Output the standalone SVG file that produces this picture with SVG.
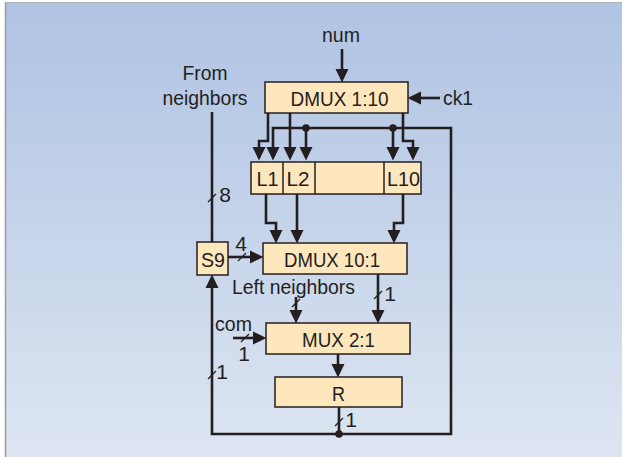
<svg xmlns="http://www.w3.org/2000/svg" width="622" height="457" viewBox="0 0 622 457">
<defs>
<linearGradient id="bg" x1="0" y1="0" x2="0" y2="1">
<stop offset="0" stop-color="#afc3e3"/>
<stop offset="1" stop-color="#dde5f1"/>
</linearGradient>
<marker id="ah" markerUnits="userSpaceOnUse" markerWidth="14" markerHeight="14" viewBox="0 0 14 14" refX="9" refY="7" orient="auto">
<path d="M0,0.5 L13.5,7 L0,13.5 z" fill="#231f20"/>
</marker>
<style>
.box{fill:#fee6bd;stroke:#231f20;stroke-width:1.5}
.t{font-family:"Liberation Sans",Arial,sans-serif;font-size:21px;fill:#231f20;text-anchor:middle}
.w{fill:none;stroke:#231f20;stroke-width:2.6}
.a{marker-end:url(#ah)}
.s{stroke:#231f20;stroke-width:1.2}
.d{fill:#231f20}
</style>
</defs>
<rect x="0" y="0" width="622" height="457" fill="#ffffff"/>
<rect x="6" y="3" width="616" height="454" fill="url(#bg)"/>
<line x1="5.5" y1="2" x2="5.5" y2="457" stroke="#9a9a9a" stroke-width="1.5"/>
<line x1="5" y1="2.5" x2="622" y2="2.5" stroke="#b0b0b0" stroke-width="1.2"/>

<g id="connectors">
<path class="w a" d="M342,49 V78"/>
<path class="w a" d="M440,98 H412"/>
<path class="w a" d="M268,113 V141 H259 V156"/>
<path class="w a" d="M290,113 V156"/>
<path class="w a" d="M403,113 V141 H413 V156"/>
<path class="w a" d="M339,407 V434 H451 V128 H273 V156"/>
<path class="w a" d="M306,128 V156"/>
<path class="w a" d="M393,128 V156"/>
<path class="w a" d="M339,434 H212 V279"/>
<path class="w a" d="M266,194 V223 H276 V239"/>
<path class="w a" d="M297,194 V239"/>
<path class="w a" d="M403,194 V223 H394 V239"/>
<path class="w" d="M212,112 V242"/>
<path class="w a" d="M228,257 H259"/>
<path class="w a" d="M378,274 V319"/>
<path class="w a" d="M296,297 V319"/>
<path class="w a" d="M233,338 H262"/>
<path class="w a" d="M338,354 V373"/>
<circle class="d" cx="306" cy="128" r="3.8"/>
<circle class="d" cx="393" cy="128" r="3.8"/>
<circle class="d" cx="339" cy="434" r="3.8"/>
<line class="s" x1="208" y1="202" x2="216" y2="194"/>
<line class="s" x1="238" y1="261" x2="246" y2="253"/>
<line class="s" x1="292" y1="307" x2="300" y2="299"/>
<line class="s" x1="374" y1="299" x2="382" y2="291"/>
<line class="s" x1="241" y1="342" x2="249" y2="334"/>
<line class="s" x1="335" y1="426" x2="343" y2="418"/>
<line class="s" x1="208" y1="379" x2="216" y2="371"/>
<text class="t" x="341" y="42" textLength="38" lengthAdjust="spacingAndGlyphs">num</text>
<text class="t" x="205" y="80" textLength="45" lengthAdjust="spacingAndGlyphs">From</text>
<text class="t" x="205" y="105" textLength="85" lengthAdjust="spacingAndGlyphs">neighbors</text>
<text class="t" x="458" y="105" textLength="30" lengthAdjust="spacingAndGlyphs">ck1</text>
<text class="t" x="225" y="202">8</text>
<text class="t" x="241" y="251">4</text>
<text class="t" x="293.5" y="294" textLength="123" lengthAdjust="spacingAndGlyphs">Left neighbors</text>
<text class="t" x="390" y="301">1</text>
<text class="t" x="233.5" y="331" textLength="37" lengthAdjust="spacingAndGlyphs">com</text>
<text class="t" x="244" y="361">1</text>
<text class="t" x="222" y="379">1</text>
<text class="t" x="351" y="427">1</text>
</g>

<g id="dmux110">
<rect class="box" x="265" y="82" width="143" height="31"/>
<text class="t" x="339.5" y="106" textLength="98" lengthAdjust="spacingAndGlyphs">DMUX 1:10</text>
</g>
<g id="latches">
<rect class="box" x="251" y="162" width="170" height="32"/>
<line x1="283" y1="162" x2="283" y2="194" stroke="#231f20" stroke-width="1.5"/>
<line x1="315" y1="162" x2="315" y2="194" stroke="#231f20" stroke-width="1.5"/>
<line x1="384" y1="162" x2="384" y2="194" stroke="#231f20" stroke-width="1.5"/>
<text class="t" x="267.5" y="186" textLength="22" lengthAdjust="spacingAndGlyphs">L1</text>
<text class="t" x="298" y="186" textLength="23" lengthAdjust="spacingAndGlyphs">L2</text>
<text class="t" x="403.5" y="186" textLength="33" lengthAdjust="spacingAndGlyphs">L10</text>
</g>
<g id="s9">
<rect class="box" x="197" y="242" width="31" height="33"/>
<text class="t" x="213" y="267" textLength="24" lengthAdjust="spacingAndGlyphs">S9</text>
</g>
<g id="dmux101">
<rect class="box" x="263" y="243" width="144" height="31"/>
<text class="t" x="332" y="267" textLength="96" lengthAdjust="spacingAndGlyphs">DMUX 10:1</text>
</g>
<g id="mux21">
<rect class="box" x="266" y="323" width="144" height="31"/>
<text class="t" x="338.5" y="347" textLength="73" lengthAdjust="spacingAndGlyphs">MUX 2:1</text>
</g>
<g id="r">
<rect class="box" x="275" y="377" width="127" height="30"/>
<text class="t" x="338.5" y="401" textLength="13" lengthAdjust="spacingAndGlyphs">R</text>
</g>
</svg>
